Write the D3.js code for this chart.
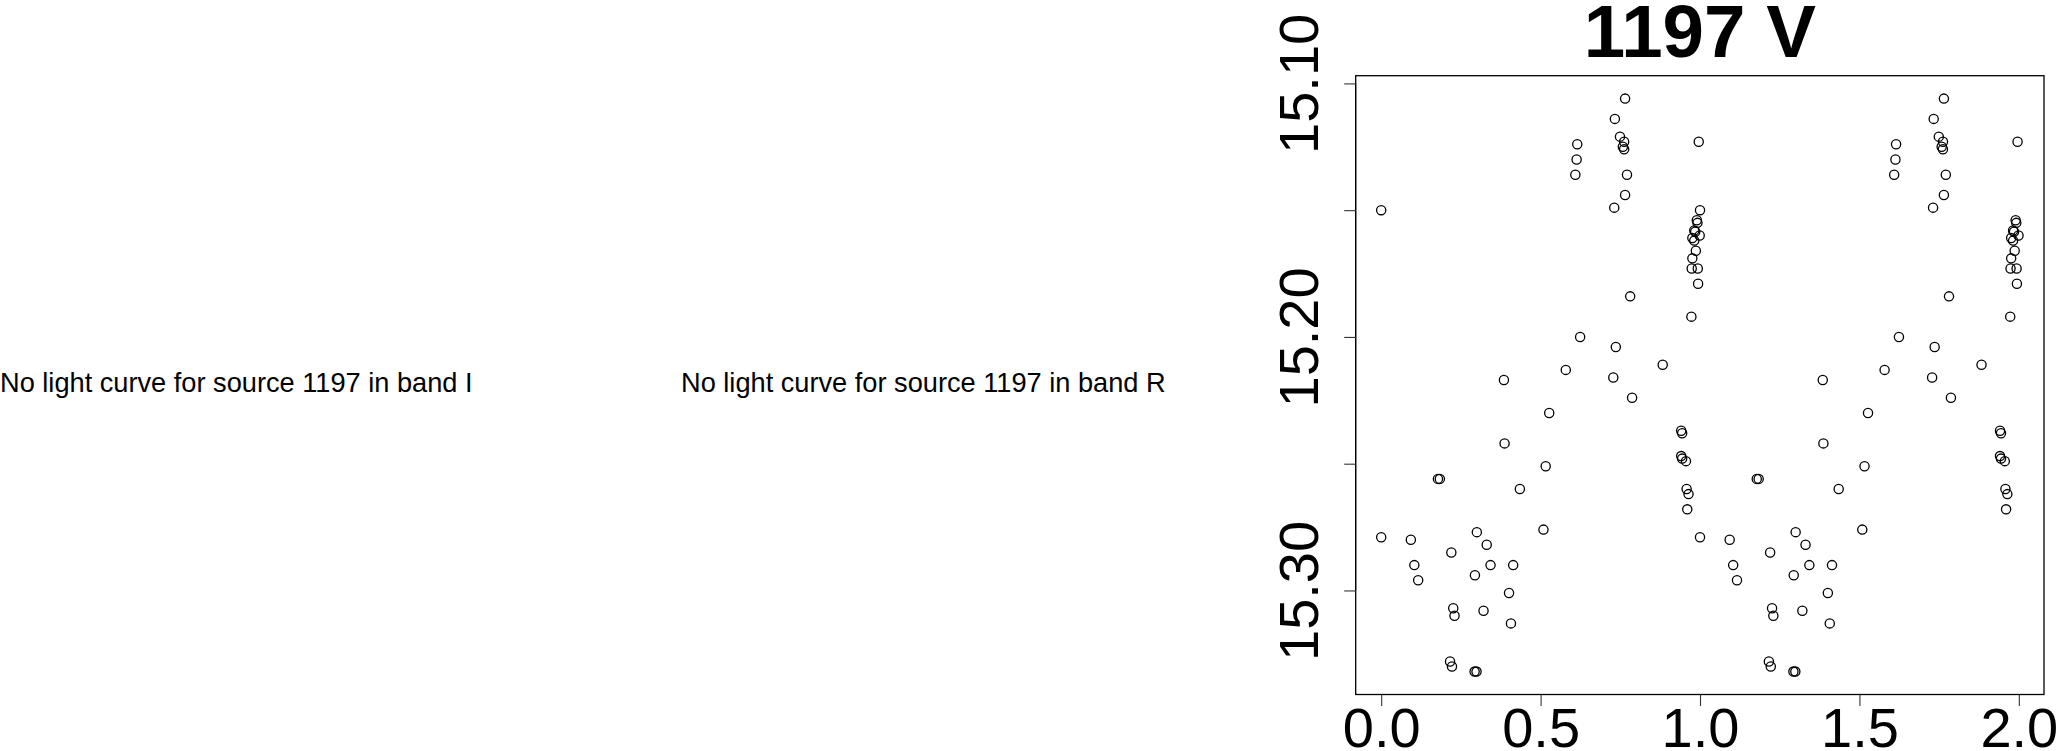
<!DOCTYPE html>
<html>
<head>
<meta charset="utf-8">
<script src="https://cdn.jsdelivr.net/npm/d3@7/dist/d3.min.js"></script>
<style>
  html, body { margin: 0; padding: 0; background: #fff; }
  svg { display: block; }
  text { font-family: "Liberation Sans", Arial, Helvetica, sans-serif; fill: #000; }
</style>
</head>
<body>
<script>
// ---- Data (phase in [0,1), V magnitude); the plot shows each point at phase and phase+1 ----
const phase = [
  0.000, 0.765, 0.733, 0.749, 0.762, 0.758, 0.762, 0.615, 0.613, 0.609,
  0.771, 0.765, 0.731, 0.996, 0.990, 0.992, 0.982, 0.985, 0.999, 0.976,
  0.982, 0.987, 0.976, 0.974, 0.993, 0.994, 0.781, 0.973, 0.624, 0.736,
  0.883, 0.579, 0.728, 0.385, 0.787, 0.527, 0.387, 0.941, 0.944, 0.941,
  0.944, 0.956, 0.516, 0.178, 0.184, 0.435, 0.958, 0.964, 0.960, 0.509,
  0.000, 0.093, 0.300, 0.331, 0.220, 0.104, 0.343, 0.414, 0.116, 0.294,
  0.401, 0.226, 0.230, 0.321, 0.407, 0.216, 0.222, 0.293, 0.299
];
const mag = [
  15.150, 15.106, 15.114, 15.121, 15.123, 15.125, 15.126, 15.124, 15.130, 15.136,
  15.136, 15.144, 15.149, 15.123, 15.154, 15.155, 15.158, 15.1585, 15.160, 15.161,
  15.162, 15.166, 15.169, 15.173, 15.173, 15.179, 15.184, 15.192, 15.200, 15.204,
  15.211, 15.213, 15.216, 15.217, 15.224, 15.230, 15.242, 15.237, 15.238, 15.247,
  15.248, 15.249, 15.251, 15.256, 15.256, 15.260, 15.260, 15.262, 15.268, 15.276,
  15.279, 15.280, 15.277, 15.282, 15.285, 15.290, 15.290, 15.290, 15.296, 15.294,
  15.301, 15.307, 15.310, 15.308, 15.313, 15.328, 15.330, 15.332, 15.332
];
const xTicks = [0, 0.5, 1, 1.5, 2];
const xTickLabels = ["0.0", "0.5", "1.0", "1.5", "2.0"];
const yTicks = [15.10, 15.15, 15.20, 15.25, 15.30];
const yTickLabels = ["15.10", "", "15.20", "", "15.30"];
const title = "1197 V";
const missingMessages = [
  "No light curve for source 1197 in band I",
  "No light curve for source 1197 in band R"
];

// ---- Layout ----
const W = 2059, H = 751;
const plot = { left: 1355.7, right: 2044, top: 75.7, bottom: 694.5 };

const svg = d3.select("body").append("svg")
  .attr("width", W).attr("height", H);

// empty panels with messages
const msgX = [0, 681];
missingMessages.forEach((m, i) => {
  svg.append("text")
    .attr("x", msgX[i]).attr("y", 392)
    .attr("font-size", 27.2)
    .text(m);
});

// points doubled over two cycles
const pts = [];
phase.forEach((p, i) => {
  pts.push({ x: p, y: mag[i] });
  pts.push({ x: p + 1, y: mag[i] });
});

// R-style 4% padded domains
function padExtent(ext) {
  const r = ext[1] - ext[0];
  return [ext[0] - 0.04 * r, ext[1] + 0.04 * r];
}
const xDom = padExtent(d3.extent(pts, d => d.x));
const yDom = padExtent(d3.extent(pts, d => d.y));

const x = d3.scaleLinear().domain(xDom).range([plot.left, plot.right]);
const y = d3.scaleLinear().domain(yDom).range([plot.top, plot.bottom]); // magnitudes: bright at top

// box
svg.append("rect")
  .attr("x", plot.left).attr("y", plot.top)
  .attr("width", plot.right - plot.left).attr("height", plot.bottom - plot.top)
  .attr("fill", "none").attr("stroke", "#000").attr("stroke-width", 1.3);

// x axis
const xAxis = d3.axisBottom(x).tickValues(xTicks)
  .tickFormat((d, i) => xTickLabels[i]).tickSizeOuter(0).tickSizeInner(11.5).tickPadding(0);
const gx = svg.append("g").attr("transform", `translate(0,${plot.bottom})`).call(xAxis);
gx.select(".domain").attr("stroke", "#000").attr("stroke-width", 1)
  .attr("d", `M${x(xTicks[0])},0H${x(xTicks[xTicks.length - 1])}`);
gx.selectAll(".tick line").attr("stroke", "#333").attr("stroke-width", 1.1);
gx.selectAll(".tick text")
  .attr("font-size", 56).attr("font-family", "Liberation Sans, Arial, sans-serif")
  .attr("fill", "#000").attr("dy", null).attr("y", 52);

// y axis
const yAxis = d3.axisLeft(y).tickValues(yTicks)
  .tickFormat((d, i) => yTickLabels[i]).tickSizeOuter(0).tickSizeInner(11.5).tickPadding(0);
const gy = svg.append("g").attr("transform", `translate(${plot.left},0)`).call(yAxis);
gy.select(".domain").attr("stroke", "#000").attr("stroke-width", 1)
  .attr("d", `M0,${y(yTicks[0])}V${y(yTicks[yTicks.length - 1])}`);
gy.selectAll(".tick line").attr("stroke", "#333").attr("stroke-width", 1.1);
gy.selectAll(".tick text")
  .attr("font-size", 56).attr("font-family", "Liberation Sans, Arial, sans-serif")
  .attr("fill", "#000")
  .attr("x", null).attr("dy", null)
  .attr("text-anchor", "middle")
  .attr("transform", "translate(-37.5,0) rotate(-90)");

// points
svg.append("g").selectAll("circle").data(pts).join("circle")
  .attr("cx", d => x(d.x)).attr("cy", d => y(d.y))
  .attr("r", 4.6)
  .attr("fill", "none").attr("stroke", "#000").attr("stroke-width", 1.3);

// title
svg.append("text")
  .attr("x", (plot.left + plot.right) / 2).attr("y", 56.7)
  .attr("text-anchor", "middle")
  .attr("font-size", 74.5).attr("font-weight", "bold")
  .text(title);
</script>
</body>
</html>
